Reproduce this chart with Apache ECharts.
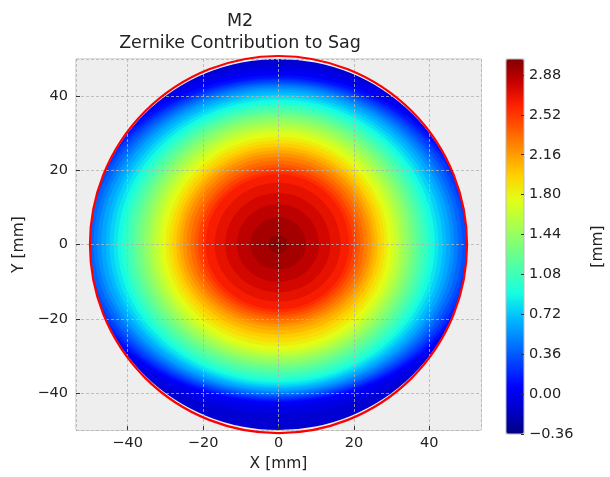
<!DOCTYPE html>
<html><head><meta charset="utf-8">
<script src="https://cdn.jsdelivr.net/npm/echarts@6/dist/echarts.min.js"></script>
<style>html,body{margin:0;padding:0;background:#fff}#c{width:610px;height:477px}</style>
</head><body><div id="c"></div>
<script>
// ---- Data (contour levels of sag in mm, and where each level sits, in mm from centre) ----
const levels = [-0.144,-0.072,0.000,0.072,0.144,0.216,0.288,0.360,0.432,0.504,0.576,0.648,0.720,0.792,0.864,0.936,1.008,1.080,1.152,1.224,1.296,1.368,1.440,1.512,1.584,1.656,1.728,1.800,1.872,1.944,2.016,2.088,2.160,2.232,2.304,2.376,2.448,2.520,2.592,2.664,2.736,2.808,2.880,2.952];
const extentRight  = [56,54.4,53.5,52.6,51.6,50.7,49.7,48.7,47.6,46.6,45.6,44.5,43.5,42.4,41.4,40.4,39.4,38.5,37.5,36.6,35.6,34.7,33.7,32.8,31.9,30.9,30.0,29.0,28.1,27.2,26.3,25.4,24.55,23.6,22.6,21.6,20.7,19.7,18.7,16.4,13.7,10.7,7.2,2.5];
const extentLeft   = [57.7,56.0,55.1,54.2,53.1,52.2,51.2,50.2,49.0,48.0,47.0,45.8,44.8,43.7,42.6,41.6,40.6,39.7,38.6,37.7,36.7,35.7,34.7,33.8,32.9,31.8,30.9,29.9,28.9,28.0,27.1,26.2,25.3,24.3,23.3,22.2,21.3,20.3,19.3,16.9,14.1,11.0,7.4,2.6];
const extentTop    = [51,48.3,46.8,45.6,44.9,44.4,43.9,43.4,42.9,42.4,41.8,41.1,40.4,39.7,39.0,38.25,37.6,36.9,36.2,35.5,34.8,34.1,33.2,32.4,31.6,30.7,29.9,29.0,28.1,27.2,26.3,25.4,24.55,23.6,22.6,21.6,20.7,19.7,18.9,16.6,13.8,10.8,7.3,2.5];
const extentBottom = [51,45.5,43.5,42.4,42.0,41.6,41.1,40.7,40.3,39.8,39.4,38.8,38.3,37.8,37.2,36.6,35.9,35.1,34.3,33.5,32.8,32.0,31.3,30.5,29.8,29.0,28.3,27.3,26.3,25.2,24.2,23.1,22.1,21.3,20.5,19.7,18.95,18.2,17.5,15.3,12.8,10.0,6.7,2.3];
const levelStep = 0.072;
const apertureRadius = 50;      // mm
const colorMin = -0.36, colorMax = 3.024, colorTickStep = 0.36;
const xRange = [-53.7, 53.7];
const yRange = [-50, 50];
const titleLines = ['M2', 'Zernike Contribution to Sag'];
const jet = ['#000080','#0000c8','#0000ff','#0040ff','#0080ff','#00bfff','#15ffe2','#48ffaf','#7bff7b','#afff48','#e2ff15','#ffd200','#ff9700','#ff5c00','#ff2100','#c80000','#800000'];

// table for the library: [level, band mid value, right, top, left, bottom]
const bandData = levels.map((lv, i) => [lv, lv + levelStep / 2, extentRight[i], extentTop[i], extentLeft[i], extentBottom[i]]);

const FONT = 'DejaVu Sans';
const TXT = '#222222';
const minus = v => (v < 0 ? '\u2212' + Math.abs(v) : String(v));

function renderBand(params, api) {
  const c = api.coord([0, 0]);
  const pr = api.coord([api.value(2), 0]);
  const pt = api.coord([0, api.value(3)]);
  const pl = api.coord([-api.value(4), 0]);
  const pb = api.coord([0, -api.value(5)]);
  const k = 0.5523;
  const cx = c[0], cy = c[1], xr = pr[0], xl = pl[0], yt = pt[1], yb = pb[1];
  const d = 'M' + xr + ',' + cy +
    ' C' + xr + ',' + (cy + (yt - cy) * k) + ' ' + (cx + (xr - cx) * k) + ',' + yt + ' ' + cx + ',' + yt +
    ' C' + (cx + (xl - cx) * k) + ',' + yt + ' ' + xl + ',' + (cy + (yt - cy) * k) + ' ' + xl + ',' + cy +
    ' C' + xl + ',' + (cy + (yb - cy) * k) + ' ' + (cx + (xl - cx) * k) + ',' + yb + ' ' + cx + ',' + yb +
    ' C' + (cx + (xr - cx) * k) + ',' + yb + ' ' + xr + ',' + (cy + (yb - cy) * k) + ' ' + xr + ',' + cy + ' Z';
  const col = api.visual('color');
  return { type: 'path', shape: { pathData: d }, style: { fill: col, stroke: col, lineWidth: 0.3 } };
}

function renderMask(params, api) {
  const cs = params.coordSys;
  const c = api.coord([api.value(0), api.value(1)]);
  const s = api.size([api.value(2), api.value(2)]);
  const rx = s[0], ry = s[1];
  const x0 = cs.x, y0 = cs.y, x1 = cs.x + cs.width, y1 = cs.y + cs.height;
  const d = 'M' + x0 + ',' + y0 + ' L' + x1 + ',' + y0 + ' L' + x1 + ',' + y1 + ' L' + x0 + ',' + y1 + ' Z ' +
    'M' + (c[0] + rx) + ',' + c[1] + ' A' + rx + ',' + ry + ' 0 1 0 ' + (c[0] - rx) + ',' + c[1] +
    ' A' + rx + ',' + ry + ' 0 1 0 ' + (c[0] + rx) + ',' + c[1] + ' Z';
  return { type: 'path', shape: { pathData: d }, style: { fill: '#eeeeee' } };
}

function renderRim(params, api) {
  const c = api.coord([api.value(0), api.value(1)]);
  const r = api.size([api.value(2), 0])[0];
  return { type: 'circle', shape: { cx: c[0], cy: c[1], r: r }, style: { fill: 'none', stroke: '#ff0000', lineWidth: 2.2 } };
}

const chart = echarts.init(document.getElementById('c'), null, { renderer: 'canvas' });
chart.setOption({
  animation: false,
  backgroundColor: '#ffffff',
  textStyle: { fontFamily: FONT },
  graphic: [
    { type: 'text', x: 240, y: 21, style: { text: titleLines[0], font: '17.5px "DejaVu Sans"', fill: TXT, textAlign: 'center', textVerticalAlign: 'middle' } },
    { type: 'text', x: 240, y: 43, style: { text: titleLines[1], font: '17.5px "DejaVu Sans"', fill: TXT, textAlign: 'center', textVerticalAlign: 'middle' } }
  ],
  grid: [
    { left: 76, top: 59, width: 405, height: 375, show: true, backgroundColor: '#eeeeee', borderColor: '#bcbcbc', borderWidth: 1 },
    { left: 506, top: 59, width: 18, height: 375, show: true, backgroundColor: 'transparent', borderColor: '#bcbcbc', borderWidth: 1, z: 10 }
  ],
  xAxis: [
    { type: 'value', gridIndex: 0, min: xRange[0], max: xRange[1], splitNumber: 5, z: 5, position: 'bottom',
      name: 'X [mm]', nameLocation: 'middle', nameGap: 25, nameTextStyle: { fontSize: 15.5, color: TXT, fontFamily: FONT },
      axisLine: { show: false, onZero: false },
      axisTick: { show: true, inside: true, length: 4, lineStyle: { color: '#333', width: 1 } },
      axisLabel: { showMinLabel: false, showMaxLabel: false, margin: 6, fontSize: 14.5, color: TXT, fontFamily: FONT, formatter: minus },
      splitLine: { show: true, lineStyle: { color: '#b2b2b2', width: 0.8, type: [3, 2] } } },
    { type: 'value', gridIndex: 1, min: 0, max: 1, show: false, axisLine: { onZero: false } }
  ],
  yAxis: [
    { type: 'value', gridIndex: 0, min: yRange[0], max: yRange[1], splitNumber: 5, z: 5, position: 'left',
      name: 'Y [mm]', nameLocation: 'middle', nameGap: 48, nameTextStyle: { fontSize: 15.5, color: TXT, fontFamily: FONT },
      axisLine: { show: false, onZero: false },
      axisTick: { show: true, inside: true, length: 4, lineStyle: { color: '#333', width: 1 } },
      axisLabel: { showMinLabel: false, showMaxLabel: false, margin: 8, fontSize: 14.5, color: TXT, fontFamily: FONT, formatter: minus },
      splitLine: { show: true, lineStyle: { color: '#b2b2b2', width: 0.8, type: [3, 2] } } },
    { type: 'value', gridIndex: 1, min: colorMin, max: colorMax, interval: colorTickStep, position: 'right', z: 10,
      name: '[mm]', nameLocation: 'middle', nameGap: 66, nameTextStyle: { fontSize: 15.5, color: TXT, fontFamily: FONT },
      axisLine: { show: false, onZero: false },
      axisTick: { show: true, inside: true, length: 3, lineStyle: { color: '#333', width: 1 } },
      axisLabel: { showMaxLabel: false, margin: 5, fontSize: 14.5, color: TXT, fontFamily: FONT,
        formatter: v => (v < 0 ? '\u2212' + Math.abs(v).toFixed(2) : (Math.abs(v) < 1e-9 ? '0.00' : v.toFixed(2))) },
      splitLine: { show: false } }
  ],
  visualMap: {
    type: 'continuous', min: colorMin, max: colorMax, dimension: 1, seriesIndex: 0,
    calculable: false, hoverLink: false, orient: 'vertical', left: 506, top: 59, padding: 0,
    itemWidth: 18, itemHeight: 375, inRange: { color: jet }
  },
  series: [
    { type: 'custom', coordinateSystem: 'cartesian2d', xAxisIndex: 0, yAxisIndex: 0, data: bandData, renderItem: renderBand, clip: true, z: 2, silent: true },
    { type: 'custom', coordinateSystem: 'cartesian2d', xAxisIndex: 0, yAxisIndex: 0, data: [[0, 0, apertureRadius]], renderItem: renderMask, z: 3, silent: true },
    { type: 'custom', coordinateSystem: 'cartesian2d', xAxisIndex: 0, yAxisIndex: 0, data: [[0, 0, apertureRadius]], renderItem: renderRim, z: 6, silent: true }
  ]
});
</script></body></html>
